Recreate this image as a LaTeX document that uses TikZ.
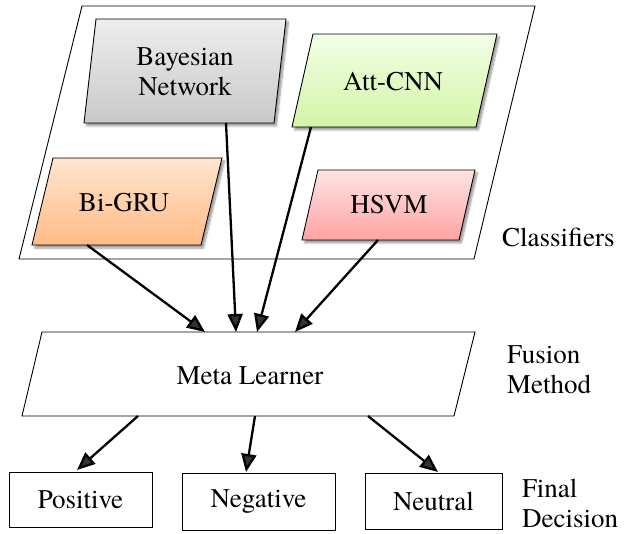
\documentclass[tikz,border=0pt]{standalone}
\usepackage{fontspec}
\setmainfont{TeX Gyre Termes}
\usetikzlibrary{arrows.meta,shadows.blur}

\definecolor{bayesTop}{HTML}{EDEDED}
\definecolor{bayesBot}{HTML}{C9C9C9}
\definecolor{cnnTop}{HTML}{F2FFE6}
\definecolor{cnnBot}{HTML}{D3F4A6}
\definecolor{gruTop}{HTML}{FFE6D0}
\definecolor{gruBot}{HTML}{FFBA86}
\definecolor{svmTop}{HTML}{FFE4E4}
\definecolor{svmBot}{HTML}{FFA3A3}

\begin{document}
\begin{tikzpicture}[x=1pt,y=-1pt,
  every node/.style={font=\rmfamily\fontsize{27}{30}\selectfont, inner sep=0pt},
  frame/.style={draw=black, line width=0.9pt},
  model/.style={draw=black, line width=0.9pt,
    blur shadow={shadow xshift=2.5pt, shadow yshift=-3pt, shadow blur steps=8,
      shadow blur extra rounding=0pt}},
  sidenote/.style={align=left, anchor=west},
  outcome/.style={draw=black, line width=0.9pt},
  arr/.style={-{Triangle[length=18pt,width=15pt]}, line width=2.3pt}]

\useasboundingbox (0,0) rectangle (630,534);

% classifier layer
\draw[frame] (82,6) -- (535,6) -- (474,259) -- (19,259) -- cycle;

\path[model, top color=bayesTop, bottom color=bayesBot]
  (96,19) -- (286,19) -- (274,123) -- (84,123) -- cycle;
\path[model, top color=cnnTop, bottom color=cnnBot]
  (313,34) -- (497,34) -- (476,127) -- (292,127) -- cycle;
\path[model, top color=gruTop, bottom color=gruBot]
  (53,158) -- (222,158) -- (201,245) -- (32,245) -- cycle;
\path[model, top color=svmTop, bottom color=svmBot]
  (318,170) -- (475,170) -- (459,240) -- (302,240) -- cycle;

\node[align=center] (bayes) at (185,72) {Bayesian\\Network};
\node (attcnn) at (393,82) {Att-CNN};
\node (bigru) at (124,203) {Bi-GRU};
\node (hsvm) at (389,205) {HSVM};

% fusion layer
\draw[frame] (42,332) -- (475,332) -- (454,416) -- (22,416) -- cycle;
\node (meta) at (250,376) {Meta Learner};

% decisions
\node[outcome, minimum width=143pt, minimum height=55pt] (pos) at (80.5,499.5) {Positive};
\node[outcome, minimum width=153pt, minimum height=57pt] (neg) at (258.5,501.5) {Negative};
\node[outcome, minimum width=137pt, minimum height=56pt] (neu) at (433.5,501) {Neutral};

% side captions
\node[anchor=base west] (clsf) at (502,247) {Classifiers};
\node[sidenote] (fusion) at (507,370) {Fusion\\Method};
\node[sidenote] (final) at (522,503) {Final\\Decision};

% connector end points on the box edges
\coordinate (bigru-out) at (87,245);
\coordinate (bayes-out) at (226,123);
\coordinate (attcnn-out) at (311,127);
\coordinate (hsvm-out) at (378,240);
\coordinate (meta-in1) at (205,332);
\coordinate (meta-in2) at (236,332);
\coordinate (meta-in3) at (257,332);
\coordinate (meta-in4) at (295,332);
\coordinate (meta-out1) at (138,416);
\coordinate (meta-out2) at (255,416);
\coordinate (meta-out3) at (368,416);
\coordinate (pos-in) at (77,470);
\coordinate (neg-in) at (246,472);
\coordinate (neu-in) at (438,472);

\draw[arr] (bigru-out) -- (meta-in1);
\draw[arr] (bayes-out) -- (meta-in2);
\draw[arr] (attcnn-out) -- (meta-in3);
\draw[arr] (hsvm-out) -- (meta-in4);
\draw[arr] (meta-out1) -- (pos-in);
\draw[arr] (meta-out2) -- (neg-in);
\draw[arr] (meta-out3) -- (neu-in);
\end{tikzpicture}
\end{document}
